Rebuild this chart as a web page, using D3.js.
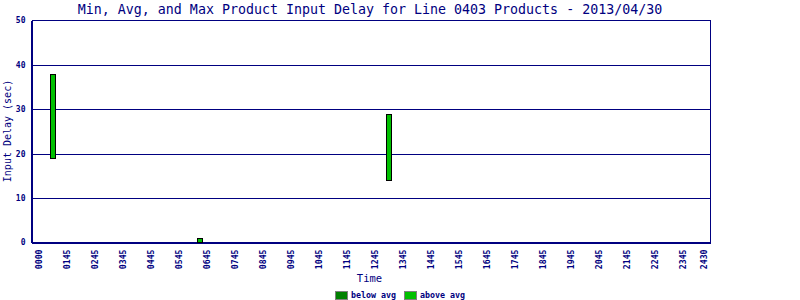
<!DOCTYPE html>
<html>
<head>
<meta charset="utf-8">
<script src="https://cdn.jsdelivr.net/npm/d3@7/dist/d3.min.js"></script>
<style>
  html, body { margin: 0; padding: 0; background: #fff; }
  svg { display: block; }
  text { font-family: "DejaVu Sans Mono", "Liberation Mono", monospace; fill: #000080; }
</style>
</head>
<body>
<svg id="chart" width="800" height="300"></svg>
<script>
// ---- data ----
const title = "Min, Avg, and Max Product Input Delay for Line 0403 Products - 2013/04/30";
const yLabel = "Input Delay (sec)";
const xLabel = "Time";
// bars: time slot (15-minute slot index of the day) and min / avg / max delay (sec)
const barTimes = ["0115", "0630", "1315"];
const barSlots = [5, 26, 53];
const minValues = [19, 0, 14];
const avgValues = [19, 0, 14];
const maxValues = [38, 1, 29];
// x tick labels and their slot positions
const xTickLabels = ["0000","0145","0245","0345","0445","0545","0645","0745","0845","0945","1045","1145","1245","1345","1445","1545","1645","1745","1845","1945","2045","2145","2245","2345","2430"];
const xTickSlots = [3,7,11,15,19,23,27,31,35,39,43,47,51,55,59,63,67,71,75,79,83,87,91,95,98];
const yTicks = [0, 10, 20, 30, 40, 50];
const legendLabels = ["below avg", "above avg"];
const legendColors = ["#008000", "#00c000"];

// ---- layout ----
const navy = "#000080";
const svg = d3.select("#chart");
const x = d3.scaleLinear().domain([2, 99]).range([31.5, 710.5]);
const y = d3.scaleLinear().domain([0, 50]).range([242.3, 20.3]);

// gridlines
svg.append("g").selectAll("line").data(yTicks.filter(v => v > 0))
  .join("line")
  .attr("x1", x(2)).attr("x2", x(99))
  .attr("y1", d => Math.round(y(d)) + 0.5).attr("y2", d => Math.round(y(d)) + 0.5)
  .attr("stroke", navy).attr("stroke-width", 1).attr("shape-rendering", "crispEdges");

// frame right side
svg.append("line")
  .attr("x1", x(99)).attr("x2", x(99))
  .attr("y1", Math.round(y(50)) + 0.5).attr("y2", Math.round(y(0)) + 0.5)
  .attr("stroke", navy).attr("shape-rendering", "crispEdges");

// y axis
const yAxis = d3.axisLeft(y).tickValues(yTicks).tickSize(0).tickPadding(6).tickFormat(d3.format("d"));
const gy = svg.append("g").attr("transform", `translate(${x(2)},0)`).call(yAxis);
gy.select(".domain").attr("stroke", navy).attr("stroke-width", 1.5).attr("shape-rendering", "crispEdges");
gy.selectAll("text").attr("font-size", "8px").attr("font-weight", "bold").attr("fill", navy)
  .attr("font-family", "DejaVu Sans Mono");

// x axis
const xAxis = d3.axisBottom(x).tickValues(xTickSlots).tickSize(0)
  .tickFormat((d, i) => xTickLabels[i]);
const gx = svg.append("g").attr("transform", `translate(0,${Math.round(y(0)) + 0.5})`).call(xAxis);
gx.select(".domain").attr("stroke", navy).attr("stroke-width", 1.5).attr("shape-rendering", "crispEdges");
gx.selectAll("text")
  .attr("font-size", "8.2px").attr("font-weight", "bold").attr("fill", navy)
  .attr("font-family", "DejaVu Sans Mono")
  .attr("text-anchor", "end")
  .attr("dy", "0.32em")
  .attr("transform", "translate(0,7) rotate(-90)")
  .attr("x", 0).attr("y", 0);

// bars
const bars = barSlots.map((s, i) => ({ s, min: minValues[i], avg: avgValues[i], max: maxValues[i], t: barTimes[i] }));
const barW = 5;
const gb = svg.append("g");
bars.forEach(b => {
  const cx = Math.round(x(b.s));
  if (b.avg > b.min) {
    gb.append("rect")
      .attr("x", cx - 2.5).attr("width", barW)
      .attr("y", Math.round(y(b.avg)) + 0.5).attr("height", Math.round(y(b.min)) - Math.round(y(b.avg)))
      .attr("fill", legendColors[0]).attr("stroke", "#000").attr("shape-rendering", "crispEdges");
  }
  gb.append("rect")
    .attr("x", cx - 2.5).attr("width", barW)
    .attr("y", Math.round(y(b.max)) + 0.5).attr("height", Math.round(y(b.avg)) - Math.round(y(b.max)))
    .attr("fill", legendColors[1]).attr("stroke", "#000").attr("shape-rendering", "crispEdges");
});

// title
svg.append("text").attr("x", 370).attr("y", 14).attr("text-anchor", "middle")
  .attr("font-size", "13.3px").text(title);

// axis titles
svg.append("text").attr("transform", "translate(11,131) rotate(-90)").attr("text-anchor", "middle")
  .attr("font-size", "10px").text(yLabel);
svg.append("text").attr("x", 369.5).attr("y", 282).attr("text-anchor", "middle")
  .attr("font-size", "10.5px").text(xLabel);

// legend
const lg = svg.append("g");
const legendX = [335, 404];
legendLabels.forEach((l, i) => {
  lg.append("rect").attr("x", legendX[i] + 0.5).attr("y", 291.5).attr("width", 12).attr("height", 8)
    .attr("fill", legendColors[i]).attr("stroke", "#808080").attr("shape-rendering", "crispEdges");
  lg.append("text").attr("x", legendX[i] + 16).attr("y", 298).attr("font-size", "8.3px")
    .attr("font-weight", "bold").text(l);
});
</script>
</body>
</html>
